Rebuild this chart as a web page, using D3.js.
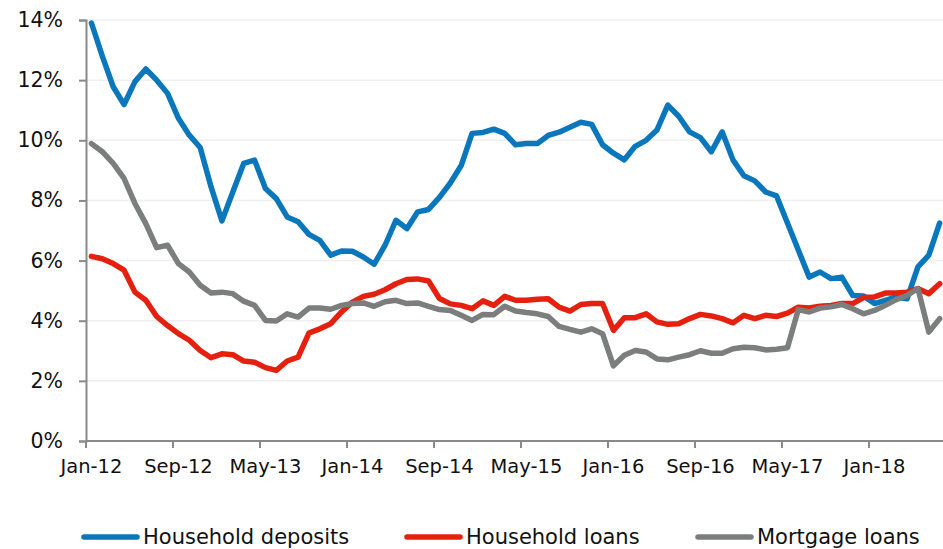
<!DOCTYPE html>
<html>
<head>
<meta charset="utf-8">
<script src="https://cdn.jsdelivr.net/npm/d3@7"></script>
<style>
  body { margin: 0; background: #fff; }
  svg text { font-family: "DejaVu Sans", Verdana, sans-serif; fill: #111; }
</style>
</head>
<body>
<svg width="943" height="549"></svg>
<script>
// Monthly categories Jan-12 .. Jul-18
const months = d3.timeMonth.range(new Date(2012, 0, 1), new Date(2018, 7, 1));
const tickLabels = ["Jan-12", "Sep-12", "May-13", "Jan-14", "Sep-14", "May-15", "Jan-16", "Sep-16", "May-17", "Jan-18"];
const yTicks = [0, 2, 4, 6, 8, 10, 12, 14];

// Year-on-year growth, %
const householdDeposits = [
  13.9, 12.8, 11.78, 11.19, 11.95, 12.37, 12.0, 11.56, 10.73, 10.17,
  9.76, 8.45, 7.32, 8.28, 9.23, 9.34, 8.4, 8.06, 7.45, 7.29,
  6.87, 6.67, 6.18, 6.32, 6.31, 6.12, 5.88, 6.51, 7.34, 7.06,
  7.62, 7.7, 8.1, 8.58, 9.16, 10.23, 10.26, 10.37, 10.23, 9.85,
  9.89, 9.89, 10.16, 10.27, 10.43, 10.6, 10.53, 9.85, 9.57, 9.35,
  9.8, 10.0, 10.34, 11.17, 10.8, 10.28, 10.09, 9.62, 10.28, 9.34,
  8.82, 8.65, 8.28, 8.15, 7.25, 6.35, 5.45, 5.62, 5.4, 5.45,
  4.84, 4.82, 4.57, 4.68, 4.79, 4.73, 5.79, 6.18, 7.25
];
const householdLoans = [
  6.14, 6.06, 5.9, 5.68, 4.95, 4.68, 4.14, 3.84, 3.57, 3.35,
  3.01, 2.77, 2.9, 2.87, 2.66, 2.62, 2.44, 2.35, 2.66, 2.79,
  3.59, 3.73, 3.9, 4.29, 4.62, 4.81, 4.88, 5.03, 5.23, 5.37,
  5.39, 5.32, 4.74, 4.56, 4.51, 4.4, 4.66, 4.51, 4.81, 4.68,
  4.68, 4.71, 4.73, 4.45, 4.32, 4.54, 4.57, 4.57, 3.68, 4.1,
  4.1, 4.23, 3.96, 3.88, 3.9, 4.07, 4.21, 4.16, 4.07, 3.93,
  4.18, 4.07, 4.18, 4.14, 4.25, 4.45, 4.42, 4.48, 4.51, 4.57,
  4.57, 4.77, 4.79, 4.92, 4.92, 4.95, 5.07, 4.9, 5.23
];
const mortgageLoans = [
  9.89, 9.62, 9.23, 8.73, 7.9, 7.23, 6.43, 6.51, 5.9, 5.62,
  5.18, 4.92, 4.95, 4.9, 4.65, 4.51, 4.01, 3.99, 4.23, 4.12,
  4.42, 4.42, 4.38, 4.51, 4.57, 4.59, 4.48, 4.63, 4.68, 4.57,
  4.59, 4.48, 4.37, 4.34, 4.18, 4.01, 4.21, 4.2, 4.48, 4.32,
  4.27, 4.23, 4.14, 3.81, 3.71, 3.62, 3.73, 3.57, 2.5, 2.85,
  3.01, 2.96, 2.73, 2.7, 2.79, 2.87, 3.0, 2.92, 2.92, 3.07,
  3.12, 3.1, 3.03, 3.05, 3.1, 4.37, 4.29, 4.42, 4.46, 4.54,
  4.4, 4.23, 4.34, 4.51, 4.7, 4.84, 5.07, 3.62, 4.07
];

const series = [
  {name: "Household deposits", values: householdDeposits, color: "#0a77bd"},
  {name: "Household loans", values: householdLoans, color: "#e5200f"},
  {name: "Mortgage loans", values: mortgageLoans, color: "#7c7e7e"}
];

const svg = d3.select("svg");
const fmt = d3.timeFormat("%b-%y");

const x = d3.scaleBand()
    .domain(months.map(fmt))
    .range([86, 86 + months.length * 10.875]);
const y = d3.scaleLinear()
    .domain([0, 14])
    .range([441, 20]);

// gridlines
svg.append("g")
  .selectAll("line")
  .data(yTicks.filter(d => d > 0))
  .enter().append("line")
    .attr("x1", 86)
    .attr("x2", 943)
    .attr("y1", d => y(d))
    .attr("y2", d => y(d))
    .attr("stroke", "#efefef")
    .attr("stroke-width", 1.5);

// y axis
const yAxis = svg.append("g")
    .attr("transform", "translate(86,0)")
    .call(d3.axisLeft(y).tickValues(yTicks).tickFormat(d => d + "%").tickSize(7).tickPadding(16));
yAxis.selectAll("text").attr("font-size", 20.5);
yAxis.select(".domain").attr("stroke", "#898989").attr("stroke-width", 2);
yAxis.selectAll(".tick line").attr("stroke", "#898989").attr("stroke-width", 2);

// x axis, ticks sit on category boundaries every 8 months
const xAxis = svg.append("g")
    .attr("transform", "translate(0,441)");
xAxis.append("line")
    .attr("x1", 86).attr("x2", 943)
    .attr("stroke", "#898989").attr("stroke-width", 2);
xAxis.selectAll(".tick")
  .data(tickLabels)
  .enter().append("line")
    .attr("x1", d => x(d))
    .attr("x2", d => x(d))
    .attr("y1", 0)
    .attr("y2", 7)
    .attr("stroke", "#898989")
    .attr("stroke-width", 2);
xAxis.selectAll(".lbl")
  .data(tickLabels)
  .enter().append("text")
    .attr("x", d => x(d) + x.bandwidth() / 2)
    .attr("y", 32)
    .attr("text-anchor", "middle")
    .attr("font-size", 19.5)
    .text(d => d);

// lines
const line = d3.line()
    .x((d, i) => x(fmt(months[i])) + x.bandwidth() / 2)
    .y(d => y(d));

svg.append("g")
  .selectAll("path")
  .data(series)
  .enter().append("path")
    .attr("d", d => line(d.values))
    .attr("fill", "none")
    .attr("stroke", d => d.color)
    .attr("stroke-width", 5.5)
    .attr("stroke-linejoin", "round")
    .attr("stroke-linecap", "round");

// legend
const legendX = [84, 407, 698];
const legend = svg.append("g")
  .selectAll("g")
  .data(series)
  .enter().append("g")
    .attr("transform", (d, i) => `translate(${legendX[i]},537)`);
legend.append("line")
    .attr("x1", 0).attr("x2", 53)
    .attr("stroke", d => d.color)
    .attr("stroke-width", 5.5)
    .attr("stroke-linecap", "round");
legend.append("text")
    .attr("x", 59)
    .attr("dy", "0.33em")
    .attr("font-size", 21)
    .text(d => d.name);
</script>
</body>
</html>
